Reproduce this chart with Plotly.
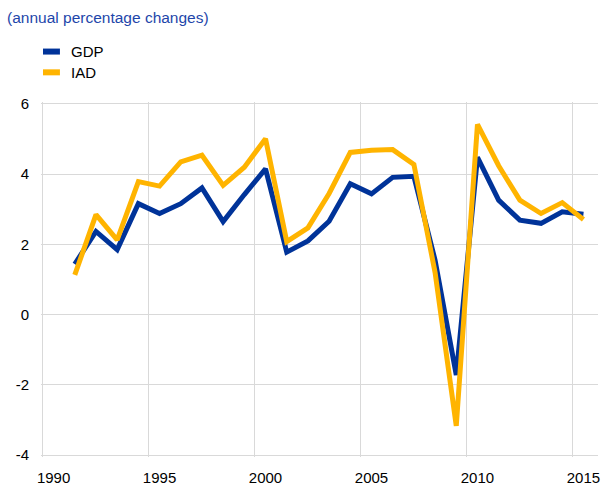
import plotly.graph_objects as go

years = list(range(1991, 2016))
gdp = [1.44, 2.37, 1.85, 3.16, 2.88, 3.16, 3.61, 2.65, 3.42, 4.15, 1.78, 2.10,
       2.66, 3.73, 3.44, 3.91, 3.94, 1.55, -1.72, 4.48, 3.26, 2.69, 2.60, 2.93, 2.86]
iad = [1.13, 2.85, 2.13, 3.79, 3.66, 4.35, 4.54, 3.68, 4.20, 5.01, 2.08, 2.47,
       3.45, 4.62, 4.68, 4.70, 4.28, 1.20, -3.17, 5.42, 4.24, 3.26, 2.88, 3.19, 2.71]
series_names = ["GDP", "IAD"]
colors = ["#003399", "#FFB400"]
x_tick_years = [1990, 1995, 2000, 2005, 2010, 2015]
x_tick_labels = ["1990", "1995", "2000", "2005", "2010", "2015"]
y_ticks = [-4, -2, 0, 2, 4, 6]
y_tick_labels = ["-4", "-2", "0", "2", "4", "6"]

FONT = "Liberation Sans, Arial, sans-serif"

# annual values plotted in the middle of each year band
xmid = [y + 0.5 for y in years]

# pixel geometry: a small pad so edge grid lines are drawn
PAD = 2
px_per_year = 21.27
px_per_unit = 35.5
plot_l, plot_r, plot_t, plot_b = 43 - PAD, 600, 104 - PAD, 459 + PAD
pw, ph = plot_r - plot_l, plot_b - plot_t
x_range = [1990 - PAD / px_per_year, 1990 - PAD / px_per_year + pw / px_per_year]
y_range = [-4 - PAD / px_per_unit, 6 + PAD / px_per_unit]

fig = go.Figure()
for name, vals, col in zip(series_names, [gdp, iad], colors):
    fig.add_trace(go.Scatter(x=xmid, y=vals, mode="lines", name=name,
                             line=dict(color=col, width=5), showlegend=False))

# legend (drawn manually to match the compact swatches)
leg_rows_px = [51, 72]
for name, col, py in zip(series_names, colors, leg_rows_px):
    yp = (plot_b - py) / ph
    fig.add_shape(type="line", xref="paper", yref="paper",
                  x0=(43 - plot_l) / pw, x1=(60 - plot_l) / pw, y0=yp, y1=yp,
                  line=dict(color=col, width=6))
    fig.add_annotation(text=name, xref="paper", yref="paper",
                       x=(69 - plot_l) / pw, y=yp, xanchor="left", yanchor="middle",
                       showarrow=False, font=dict(family=FONT, size=15, color="#000000"))

fig.update_layout(
    width=603, height=489,
    margin=dict(l=plot_l, r=603 - plot_r, t=plot_t, b=489 - plot_b),
    paper_bgcolor="white", plot_bgcolor="white",
    showlegend=False,
    font=dict(family=FONT, size=15, color="#000000"),
    title=dict(text="(annual percentage changes)", x=7 / 603, xref="container", xanchor="left",
               y=1 - 18 / 489, yref="container", yanchor="middle",
               font=dict(family=FONT, size=15.5, color="#1e46aa")),
    xaxis=dict(range=x_range,
               tickvals=[y + 0.5 for y in x_tick_years], ticktext=x_tick_labels,
               showgrid=False, zeroline=False, showline=False,
               ticks="outside", ticklen=7, tickcolor="rgba(0,0,0,0)",
               minor=dict(tickvals=x_tick_years, showgrid=True, gridcolor="#d9d9d9",
                          gridwidth=1, ticks="")),
    yaxis=dict(range=y_range, tickvals=y_ticks, ticktext=y_tick_labels,
               showgrid=True, gridcolor="#d9d9d9",
               gridwidth=1, zeroline=False, showline=False, ticks="outside",
               ticklen=8, tickcolor="rgba(0,0,0,0)"),
)

fig.write_html("out.html", config={"displayModeBar": False},
               post_script="document.body.style.margin='0';document.body.style.padding='0';")
